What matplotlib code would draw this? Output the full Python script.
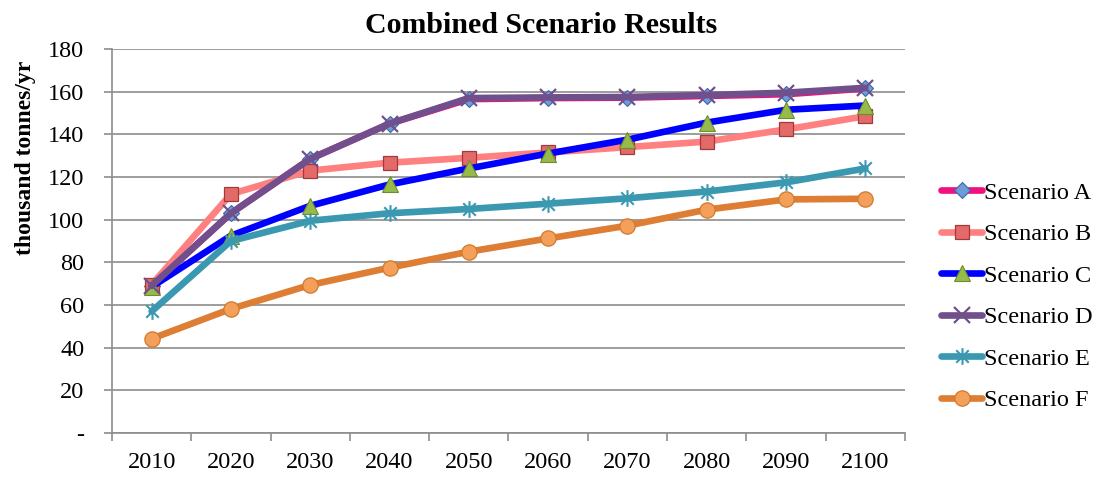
import matplotlib
matplotlib.use("Agg")
import matplotlib.pyplot as plt
from matplotlib.path import Path
import numpy as np

plt.rcParams['font.family'] = ['Liberation Serif', 'DejaVu Serif']

years = ['2010', '2020', '2030', '2040', '2050', '2060', '2070', '2080', '2090', '2100']
scenario_a = [69, 103, 128.5, 145, 156.5, 157, 157.2, 158, 158.8, 161.5]
scenario_b = [69.5, 112, 123, 126.7, 129, 131.5, 134, 136.6, 142.3, 148.5]
scenario_c = [68.5, 92.5, 106.5, 116.5, 124, 131, 137.5, 145.5, 151.5, 153.5]
scenario_d = [69, 103, 128.5, 145, 157, 157.3, 157.5, 158.4, 159.5, 161.8]
scenario_e = [57, 90, 99.5, 103, 105, 107.5, 110, 113.2, 117.5, 124]
scenario_f = [44.2, 58.2, 69.4, 77.5, 85, 91.2, 97.2, 104.7, 109.5, 109.8]
y_ticks = [0, 20, 40, 60, 80, 100, 120, 140, 160, 180]
y_tick_labels = ['-', '20', '40', '60', '80', '100', '120', '140', '160', '180']
names = ['Scenario A', 'Scenario B', 'Scenario C', 'Scenario D', 'Scenario E', 'Scenario F']

star = Path([(0, -1), (0, 1), (-0.75, -0.75), (0.75, 0.75), (-0.75, 0.75), (0.75, -0.75)],
            [Path.MOVETO, Path.LINETO, Path.MOVETO, Path.LINETO, Path.MOVETO, Path.LINETO])

styles = [
    dict(color='#F0117F', marker='D', markersize=8, markerfacecolor='#6F9BD8', markeredgecolor='#3C66A8', markeredgewidth=0.8),
    dict(color='#FF8080', marker='s', markersize=10.5, markerfacecolor='#E46A6A', markeredgecolor='#A33A3A', markeredgewidth=0.9),
    dict(color='#0000FF', marker='^', markersize=12, markerfacecolor='#97BB4A', markeredgecolor='#6E8E2E', markeredgewidth=0.8),
    dict(color='#704F8C', marker='x', markersize=11, markeredgecolor='#704F8C', markeredgewidth=1.6),
    dict(color='#3A98B0', marker=star, markersize=12, markeredgecolor='#3A98B0', markeredgewidth=1.5),
    dict(color='#DE7E34', marker='o', markersize=11, markerfacecolor='#F5A05A', markeredgecolor='#CF7A2E', markeredgewidth=0.9),
]

series = [scenario_a, scenario_b, scenario_c, scenario_d, scenario_e, scenario_f]

fig = plt.figure(figsize=(11.01, 4.78), dpi=100)
ax = fig.add_axes([0.1017, 0.0941, 0.7203, 0.8034])

x = np.arange(len(years))
for vals, name, st in zip(series, names, styles):
    ax.plot(x, vals, linewidth=4.8, label=name, solid_capstyle='round', solid_joinstyle='round', **st)

ax.set_xlim(-0.5, len(years) - 0.5)
ax.set_ylim(0, 180)
ax.set_yticks(y_ticks)
ax.set_yticklabels(y_tick_labels)
ax.yaxis.grid(True, color='#8C8C8C', linewidth=1.2)
ax.set_axisbelow(True)

ax.set_xticks(np.arange(-0.5, len(years), 1.0))
ax.set_xticklabels([])
ax.set_xticks(x, minor=True)
ax.set_xticklabels(years, minor=True)
ax.tick_params(axis='x', which='major', direction='out', length=6, color='#8C8C8C', width=1.2)
ax.tick_params(axis='x', which='minor', length=0, pad=14, labelsize=17.5)
ax.tick_params(axis='y', direction='out', length=6, color='#8C8C8C', width=1.2, pad=14, labelsize=17.5)

for side in ['top', 'right']:
    ax.spines[side].set_visible(False)
for side in ['left', 'bottom']:
    ax.spines[side].set_color('#8C8C8C')
    ax.spines[side].set_linewidth(1.2)

ax.set_ylabel('thousand tonnes/yr', fontsize=17, fontweight='bold')
ax.yaxis.set_label_coords(-0.096, 0.716)
fig.text(541 / 1101, 1 - 33 / 478, 'Combined Scenario Results', fontsize=21.5, fontweight='bold',
         ha='center', va='baseline')

leg = fig.legend(loc='center left', bbox_to_anchor=(941 / 1101, 1 - 296.5 / 478), frameon=False, fontsize=17.5,
                 handlelength=1.7, handletextpad=0.05, labelspacing=0.8, borderaxespad=0, borderpad=0)

fig.savefig('out.png', dpi=100)
